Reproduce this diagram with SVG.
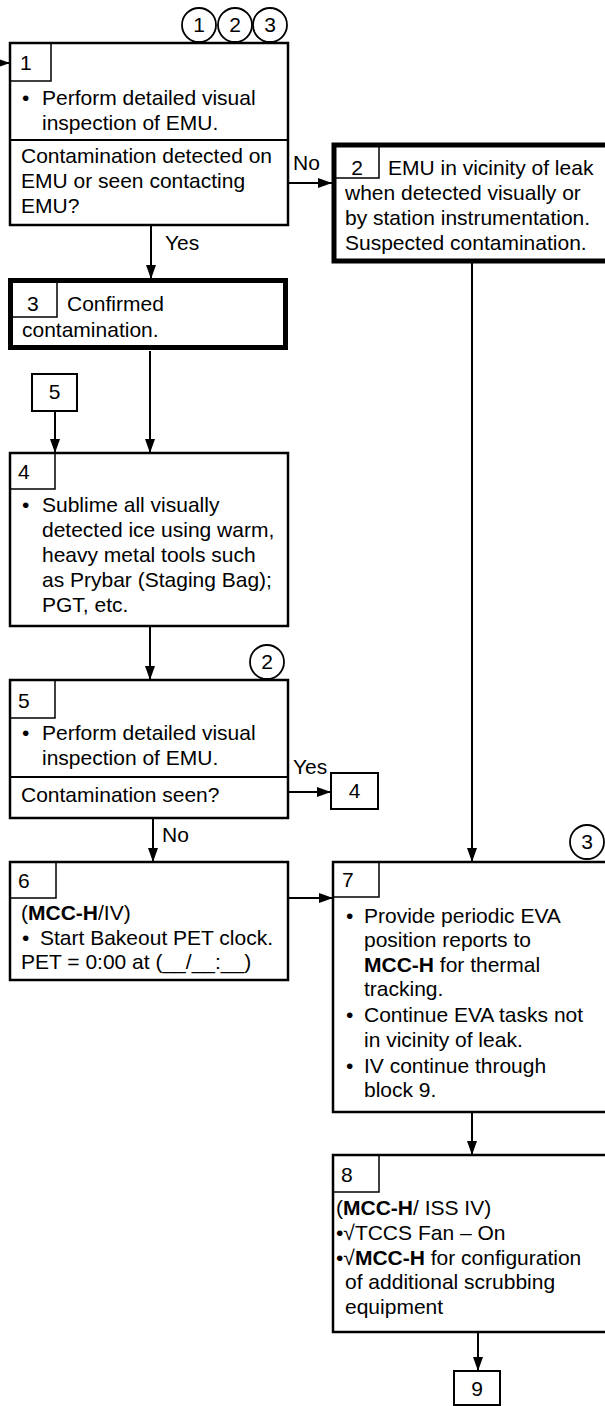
<svg xmlns="http://www.w3.org/2000/svg" width="605" height="1406" viewBox="0 0 605 1406">
<style>
text{font-family:"Liberation Sans",Arial,sans-serif;font-size:21px;fill:#000}
.b{font-weight:bold}
.box{fill:#fff;stroke:#000;stroke-width:2.5}
.thick{fill:#fff;stroke:#000;stroke-width:5}
.num{fill:none;stroke:#000;stroke-width:1.5}
.div{stroke:#000;stroke-width:2}
.ref{fill:#fff;stroke:#000;stroke-width:2}
.circ{fill:#fff;stroke:#000;stroke-width:1.8}
.c{text-anchor:middle}
#connectors path{fill:none;stroke:#000;stroke-width:2}
</style>
<defs>
<marker id="ah" markerWidth="14" markerHeight="10" refX="14" refY="5" orient="auto" markerUnits="userSpaceOnUse"><path d="M0,0 L14,5 L0,10 z" fill="#000"/></marker>
</defs>

<g id="connectors">
<path d="M0,63 L10,63" marker-end="url(#ah)"/>
<path d="M151,225 L151,279" marker-end="url(#ah)"/>
<path d="M288,183 L332,183" marker-end="url(#ah)"/>
<path d="M472,263 L472,862" marker-end="url(#ah)"/>
<path d="M150,351 L150,453" marker-end="url(#ah)"/>
<path d="M55,411 L55,453" marker-end="url(#ah)"/>
<path d="M150,626 L150,680" marker-end="url(#ah)"/>
<path d="M288,792 L331,792" marker-end="url(#ah)"/>
<path d="M153,818 L153,862" marker-end="url(#ah)"/>
<path d="M288,898 L333,898" marker-end="url(#ah)"/>
<path d="M472,1112 L472,1155" marker-end="url(#ah)"/>
<path d="M478,1332 L478,1371" marker-end="url(#ah)"/>
<text x="165" y="250">Yes</text>
<text x="293" y="170">No</text>
<text x="293" y="774">Yes</text>
<text x="162" y="842">No</text>
</g>

<g id="circles">
<circle class="circ" cx="199" cy="25" r="17"/><text class="c" x="199" y="32">1</text>
<circle class="circ" cx="235" cy="25" r="17"/><text class="c" x="235" y="32">2</text>
<circle class="circ" cx="270" cy="25" r="17"/><text class="c" x="270" y="32">3</text>
<circle class="circ" cx="267" cy="662" r="17"/><text class="c" x="267" y="669">2</text>
<circle class="circ" cx="587" cy="842" r="17"/><text class="c" x="587" y="849">3</text>
</g>

<g id="block1">
<rect class="box" x="10" y="43" width="278" height="182"/>
<rect class="num" x="10" y="43" width="41" height="38"/>
<line class="div" x1="10" y1="140" x2="288" y2="140"/>
<text x="20" y="70">1</text>
<text x="22" y="105">•</text>
<text x="42" y="105">Perform detailed visual</text>
<text x="42" y="130">inspection of EMU.</text>
<text x="21" y="163">Contamination detected on</text>
<text x="21" y="188">EMU or seen contacting</text>
<text x="21" y="213">EMU?</text>
</g>

<g id="block2">
<rect class="thick" x="334" y="145" width="290" height="116"/>
<rect class="num" x="334" y="145" width="45" height="33"/>
<text class="c" x="357" y="175">2</text>
<text x="388" y="175">EMU in vicinity of leak</text>
<text x="345" y="200">when detected visually or</text>
<text x="345" y="225">by station instrumentation.</text>
<text x="345" y="250">Suspected contamination.</text>
</g>

<g id="block3">
<rect class="thick" x="10.5" y="280.5" width="275" height="67"/>
<rect class="num" x="10.5" y="280.5" width="46.5" height="36.5"/>
<text x="27" y="311">3</text>
<text x="67" y="311">Confirmed</text>
<text x="22" y="337">contamination.</text>
</g>

<g id="ref5">
<rect class="ref" x="32" y="374" width="45" height="37"/>
<text class="c" x="54.5" y="399">5</text>
</g>

<g id="block4">
<rect class="box" x="10" y="453" width="278" height="173"/>
<rect class="num" x="10" y="453" width="45" height="36"/>
<text x="18" y="479">4</text>
<text x="22" y="512">•</text>
<text x="42" y="512">Sublime all visually</text>
<text x="42" y="537">detected ice using warm,</text>
<text x="42" y="562">heavy metal tools such</text>
<text x="42" y="587">as Prybar (Staging Bag);</text>
<text x="42" y="612">PGT, etc.</text>
</g>

<g id="block5">
<rect class="box" x="10" y="680" width="278" height="138"/>
<rect class="num" x="10" y="680" width="45" height="38"/>
<line class="div" x1="10" y1="777" x2="288" y2="777"/>
<text x="18" y="708">5</text>
<text x="22" y="740">•</text>
<text x="42" y="740">Perform detailed visual</text>
<text x="42" y="765">inspection of EMU.</text>
<text x="21" y="802">Contamination seen?</text>
</g>

<g id="ref4">
<rect class="ref" x="331" y="773" width="47" height="36"/>
<text class="c" x="354.5" y="798">4</text>
</g>

<g id="block6">
<rect class="box" x="10" y="862" width="278" height="118"/>
<rect class="num" x="10" y="862" width="46" height="36"/>
<text x="18" y="888">6</text>
<text x="21" y="920">(<tspan class="b">MCC-H</tspan>/IV)</text>
<text x="22" y="945">•</text>
<text x="40" y="945">Start Bakeout PET clock.</text>
<text x="21" y="969">PET = 0:00 at (__/__:__)</text>
</g>

<g id="block7">
<rect class="box" x="333" y="862" width="290" height="250"/>
<rect class="num" x="333" y="862" width="46" height="35"/>
<text x="342" y="887">7</text>
<text x="346" y="923">•</text>
<text x="364" y="923">Provide periodic EVA</text>
<text x="364" y="947">position reports to</text>
<text x="364" y="972"><tspan class="b">MCC-H</tspan> for thermal</text>
<text x="364" y="996">tracking.</text>
<text x="346" y="1022">•</text>
<text x="364" y="1022">Continue EVA tasks not</text>
<text x="364" y="1047">in vicinity of leak.</text>
<text x="346" y="1073">•</text>
<text x="364" y="1073">IV continue through</text>
<text x="364" y="1097">block 9.</text>
</g>

<g id="block8">
<rect class="box" x="333" y="1155" width="290" height="177"/>
<rect class="num" x="333" y="1155" width="46" height="37"/>
<text x="341" y="1182">8</text>
<text x="336" y="1215">(<tspan class="b">MCC-H</tspan>/ ISS IV)</text>
<text x="336" y="1240">•√TCCS Fan – On</text>
<text x="336" y="1265">•√<tspan class="b">MCC-H</tspan> for configuration</text>
<text x="345" y="1289">of additional scrubbing</text>
<text x="345" y="1314">equipment</text>
</g>

<g id="ref9">
<rect class="ref" x="454" y="1371" width="46" height="34"/>
<text class="c" x="477" y="1396">9</text>
</g>
</svg>
